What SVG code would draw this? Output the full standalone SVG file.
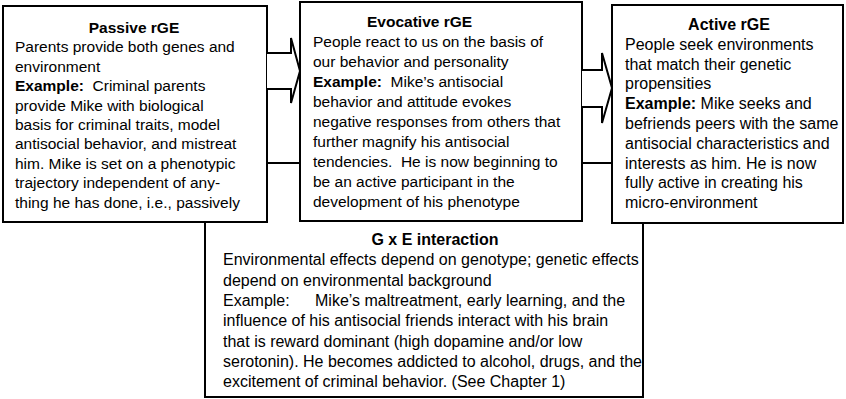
<svg xmlns="http://www.w3.org/2000/svg" width="846" height="399" viewBox="0 0 846 399">
<style>
  .box { fill: #fff; stroke: #000; stroke-width: 2; }
  .arrow { fill: #fff; stroke: #000; stroke-width: 2; stroke-linejoin: miter; }
  text { font-family: "Liberation Sans", Arial, sans-serif; font-size: 15.5px; fill: #000; white-space: pre; }
  .lg text { font-size: 16px; }
  .b { font-weight: bold; }
  .t { font-weight: bold; text-anchor: middle; }
</style>
<rect width="846" height="399" fill="#fff"/>
<g id="gxe" class="lg">
  <rect class="box" x="205" y="163" width="438" height="234"/>
  <text class="t" x="435" y="245">G x E interaction</text>
  <text x="223" y="265">Environmental effects depend on genotype; genetic effects</text>
  <text x="223" y="285.5">depend on environmental background</text>
  <text x="223" y="306">Example:<tspan x="315">Mike’s maltreatment, early learning, and the</tspan></text>
  <text x="223" y="326">influence of his antisocial friends interact with his brain</text>
  <text x="223" y="346.5">that is reward dominant (high dopamine and/or low</text>
  <text x="223" y="367">serotonin). He becomes addicted to alcohol, drugs, and the</text>
  <text x="223" y="387">excitement of criminal behavior. (See Chapter 1)</text>
</g>
<g id="passive">
  <rect class="box" x="3" y="6" width="264" height="216"/>
  <text class="t" x="134" y="33">Passive rGE</text>
  <text x="15" y="52.4">Parents provide both genes and</text>
  <text x="15" y="71.8">environment</text>
  <text x="15" y="91.2"><tspan class="b">Example:</tspan>  Criminal parents</text>
  <text x="15" y="110.6">provide Mike with biological</text>
  <text x="15" y="130">basis for criminal traits, model</text>
  <text x="15" y="149.4">antisocial behavior, and mistreat</text>
  <text x="15" y="168.8">him. Mike is set on a phenotypic</text>
  <text x="15" y="188.2">trajectory independent of any-</text>
  <text x="15" y="207.6">thing he has done, i.e., passively</text>
</g>
<g id="evocative">
  <rect class="box" x="300" y="2" width="282" height="219"/>
  <text class="b" x="367" y="27">Evocative rGE</text>
  <text x="313" y="47">People react to us on the basis of</text>
  <text x="313" y="67">our behavior and personality</text>
  <text x="313" y="87"><tspan class="b">Example:</tspan>  Mike’s antisocial</text>
  <text x="313" y="107">behavior and attitude evokes</text>
  <text x="313" y="127">negative responses from others that</text>
  <text x="313" y="147">further magnify his antisocial</text>
  <text x="313" y="167">tendencies.  He is now beginning to</text>
  <text x="313" y="187">be an active participant in the</text>
  <text x="313" y="207">development of his phenotype</text>
</g>
<g id="active" class="lg">
  <rect class="box" x="612" y="5" width="231" height="218"/>
  <text class="t" x="729" y="30">Active rGE</text>
  <text x="625" y="49.8">People seek environments</text>
  <text x="625" y="69.6">that match their genetic</text>
  <text x="625" y="89.4">propensities</text>
  <text x="625" y="109.2"><tspan class="b">Example:</tspan> Mike seeks and</text>
  <text x="625" y="129">befriends peers with the same</text>
  <text x="625" y="148.8">antisocial characteristics and</text>
  <text x="625" y="168.6">interests as him. He is now</text>
  <text x="625" y="188.4">fully active in creating his</text>
  <text x="625" y="208.2">micro-environment</text>
</g>
<g id="connectors">
  <path class="arrow" d="M267,53 H291 V38 L300,71 L291,103 V89 H267"/>
  <path class="arrow" d="M582,70 H602 V53 L612,88 L602,123 V107 H582"/>
</g>
</svg>
